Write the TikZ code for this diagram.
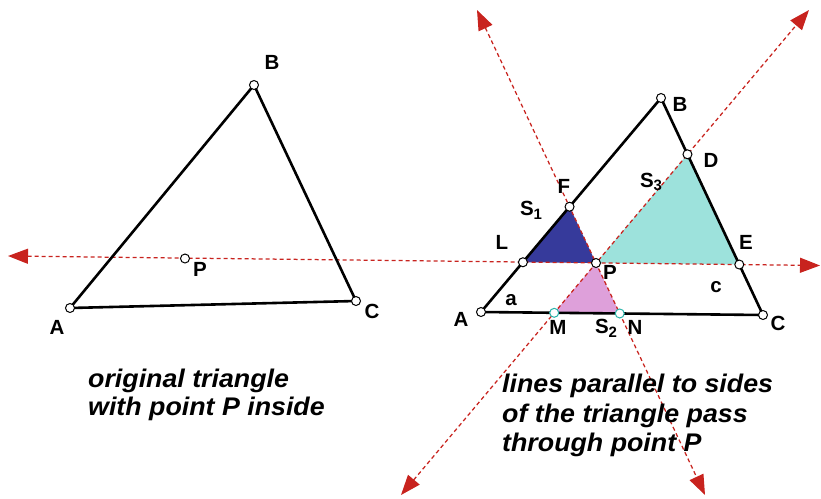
\documentclass[tikz,border=0pt]{standalone}
\usepackage{fontspec}
\setmainfont{Liberation Sans}
\newfontfamily\capfont{Liberation Sans}[FakeStretch=1.05]
\usetikzlibrary{arrows.meta,calc}
\definecolor{dred}{RGB}{200,35,30}
\definecolor{sone}{RGB}{54,58,155}
\definecolor{stwo}{RGB}{222,160,218}
\definecolor{sthree}{RGB}{157,226,220}
\definecolor{teal2}{RGB}{40,180,170}
\begin{document}
\begin{tikzpicture}[x=1pt,y=-1pt,
  side/.style={line width=2.6pt, line join=round},
  parline/.style={dred, line width=1.25pt, dash pattern=on 4pt off 3pt,
    {Triangle[length=20pt,width=15pt]}-{Triangle[length=20pt,width=15pt]}},
  pt/.style={circle, draw, fill=white, line width=1pt, inner sep=0pt, minimum size=9pt},
  tpt/.style={pt, draw=teal2},
  lab/.style={font=\fontsize{20.5}{20.5}\selectfont\bfseries, inner sep=0pt},
  captxt/.style={font=\capfont\fontsize{25.5}{29}\selectfont\bfseries\itshape, inner sep=0pt, anchor=base west}]
\useasboundingbox (0,0) rectangle (821,498);
% left triangle
\coordinate (A1) at (70,308);
\coordinate (B1) at (254,85);
\coordinate (C1) at (356,301);
\coordinate (P1) at (185,258.5);
% right triangle
\coordinate (A2) at (481,312);
\coordinate (B2) at (661,98);
\coordinate (C2) at (763,315);
\coordinate (P2) at (596,263);
\coordinate (Qac) at ($(P2)+(C2)-(A2)$);
\coordinate (Qbc) at ($(P2)+(C2)-(B2)$);
\coordinate (Qab) at ($(P2)+(B2)-(A2)$);
\coordinate (L) at (intersection of A2--B2 and P2--Qac);
\coordinate (E) at (intersection of B2--C2 and P2--Qac);
\coordinate (F) at (intersection of A2--B2 and P2--Qbc);
\coordinate (N) at (intersection of A2--C2 and P2--Qbc);
\coordinate (D) at (intersection of B2--C2 and P2--Qab);
\coordinate (M) at (intersection of A2--C2 and P2--Qab);
% arrow tips
\coordinate (HL) at (8,256);
\coordinate (HR) at (820,265.5);
\coordinate (T1) at (477,10);
\coordinate (T2) at (705,495);
\coordinate (T3) at (809,10);
\coordinate (T4) at (401,495);
% fills
\fill[sone] (L) -- (F) -- (P2) -- cycle;
\fill[sthree] (P2) -- (D) -- (E) -- cycle;
\fill[stwo] (P2) -- (M) -- (N) -- cycle;
% dashed lines
\draw[parline] (HL) -- (HR);
\draw[parline] (T1) -- (T2);
\draw[parline] (T4) -- (T3);
% triangles
\draw[side] (A1) -- (B1) -- (C1) -- cycle;
\draw[side] (A2) -- (B2) -- (C2) -- cycle;
% points
\foreach \p in {A1,B1,C1,P1,A2,B2,C2,P2,L,E,F,D}
  \node[pt] (n\p) at (\p) {};
\node[tpt] (nM) at (M) {};
\node[tpt] (nN) at (N) {};
% labels left
\node[lab] (lA1) at (57,327) {A};
\node[lab] (lB1) at (272,62) {B};
\node[lab] (lC1) at (372,311) {C};
\node[lab] (lP1) at (200,269) {P};
% labels right
\node[lab] (lA2) at (461,319) {A};
\node[lab] (lB2) at (680,104) {B};
\node[lab] (lC2) at (778,323) {C};
\node[lab] (lD) at (711,160) {D};
\node[lab] (lE) at (746,242) {E};
\node[lab] (lF) at (564,186) {F};
\node[lab] (lL) at (502,242) {L};
\node[lab] (lP2) at (610,272) {P};
\node[lab] (lM) at (558,327) {M};
\node[lab] (lN) at (635,327) {N};
\node[lab] (la) at (511,300) {a};
\node[lab] (lc) at (716,287) {c};
\node[lab] (lS1) at (531,210) {S\raisebox{-0.35ex}{\fontsize{15}{15}\selectfont 1}};
\node[lab] (lS2) at (606,328) {S\raisebox{-0.35ex}{\fontsize{15}{15}\selectfont 2}};
\node[lab] (lS3) at (651,182) {S\raisebox{-0.35ex}{\fontsize{15}{15}\selectfont 3}};
% captions
\node[captxt] (c1a) at (88,387) {original triangle};
\node[captxt] (c1b) at (88,415) {with point P inside};
\node[captxt] (c2a) at (502,392) {lines parallel to sides};
\node[captxt] (c2b) at (502,422) {of the triangle pass};
\node[captxt] (c2c) at (502,451) {through point P};
\end{tikzpicture}
\end{document}
